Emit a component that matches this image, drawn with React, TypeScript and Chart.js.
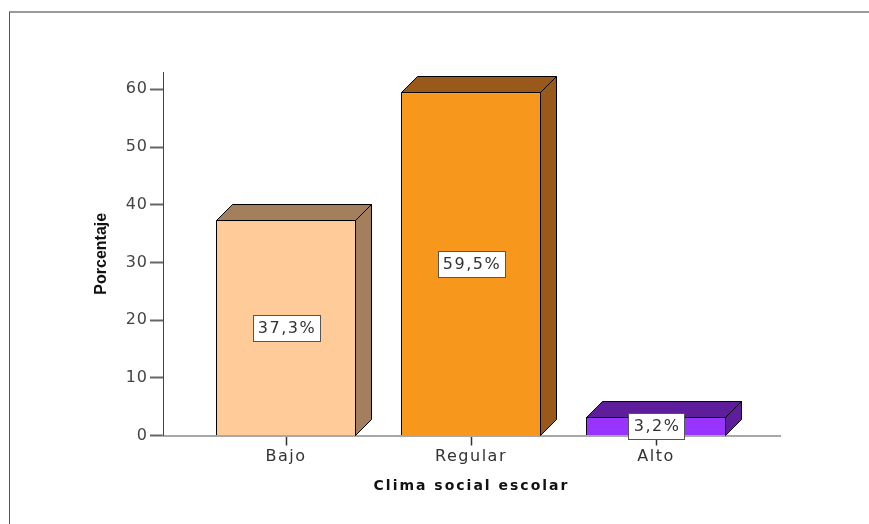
import React, { useEffect, useRef } from 'react';
import { Chart, registerables } from 'chart.js';

Chart.register(...registerables);

// ---- data ----
const categories = ['Bajo', 'Regular', 'Alto'];
const percentages = [37.3, 59.5, 3.2];
const valueLabels = ['37,3%', '59,5%', '3,2%'];
const yTickValues = [0, 10, 20, 30, 40, 50, 60];
const xTitle = 'Clima social escolar';
const yTitle = 'Porcentaje';

// ---- styles ----
const frontColors = ['#FFCC99', '#F7981D', '#9933FF'];
const depthColors = ['#A37F5E', '#98591A', '#5E1E9C'];
const DEPTH_X = 16;
const DEPTH_Y = 16;

const scaleSpacing: Record<string, { labels: string; title: string }> = {
  x: { labels: '1.5px', title: '2px' },
  y: { labels: '1px', title: '0px' },
};

const letterSpacingPlugin = {
  id: 'letterSpacingPlugin',
  beforeDraw(chart: any) {
    Object.keys(scaleSpacing).forEach((id) => {
      const s = chart.scales[id];
      if (!s || s.__lsPatched) return;
      s.__lsPatched = true;
      const sp = scaleSpacing[id];
      const dl = s.drawLabels.bind(s);
      const dt = s.drawTitle.bind(s);
      s.drawLabels = (a: any) => {
        const c = chart.ctx;
        const prev = c.letterSpacing;
        c.letterSpacing = sp.labels;
        dl(a);
        c.letterSpacing = prev;
      };
      s.drawTitle = (a: any) => {
        const c = chart.ctx;
        const prev = c.letterSpacing;
        c.letterSpacing = sp.title;
        dt(a);
        c.letterSpacing = prev;
      };
    });
  },
};

const bar3dPlugin = {
  id: 'bar3dPlugin',
  afterDatasetsDraw(chart: any) {
    const ctx = chart.ctx;
    const meta = chart.getDatasetMeta(0);
    meta.data.forEach((bar: any, i: number) => {
      const { x, y, base, width } = bar.getProps(['x', 'y', 'base', 'width'], true);
      const l = Math.round(x - width / 2) + 0.5;
      const r = Math.round(x + width / 2) - 0.5;
      const t = Math.round(y) + 0.5;
      const b = Math.round(base) + 0.5;
      ctx.save();
      ctx.fillStyle = depthColors[i];
      ctx.strokeStyle = '#000';
      ctx.lineWidth = 1;
      ctx.lineJoin = 'miter';
      // top face
      ctx.beginPath();
      ctx.moveTo(l, t);
      ctx.lineTo(l + DEPTH_X, t - DEPTH_Y);
      ctx.lineTo(r + DEPTH_X, t - DEPTH_Y);
      ctx.lineTo(r, t);
      ctx.closePath();
      ctx.fill();
      ctx.stroke();
      // side face
      ctx.beginPath();
      ctx.moveTo(r, t);
      ctx.lineTo(r + DEPTH_X, t - DEPTH_Y);
      ctx.lineTo(r + DEPTH_X, b - DEPTH_Y);
      ctx.lineTo(r, b);
      ctx.closePath();
      ctx.fill();
      ctx.stroke();
      ctx.restore();
    });
    // value labels
    meta.data.forEach((bar: any, i: number) => {
      const { x, y, base } = bar.getProps(['x', 'y', 'base'], true);
      const cy = (y + base) / 2;
      ctx.save();
      ctx.font = '16px "DejaVu Sans"';
      (ctx as any).letterSpacing = '1.5px';
      const txt = valueLabels[i];
      const tw = ctx.measureText(txt).width;
      const w = Math.round(tw + 9);
      const h = 26;
      const bx = Math.round(x - w / 2) + 0.5;
      const by = Math.round(cy - h / 2) + 0.5;
      ctx.fillStyle = '#FFFFFF';
      ctx.fillRect(bx, by, w, h);
      ctx.strokeStyle = '#555';
      ctx.lineWidth = 1;
      ctx.strokeRect(bx, by, w, h);
      ctx.fillStyle = '#333';
      ctx.textAlign = 'center';
      ctx.textBaseline = 'middle';
      ctx.fillText(txt, x + 1, cy + 1);
      ctx.restore();
    });
  },
};

export default function App() {
  const canvasRef = useRef<HTMLCanvasElement | null>(null);

  useEffect(() => {
    if (!canvasRef.current) return;
    const chart = new Chart(canvasRef.current, {
      type: 'bar',
      data: {
        datasets: [
          {
            data: percentages.map((v, i) => ({ x: i, y: v })),
            backgroundColor: frontColors,
            borderColor: '#000',
            borderWidth: 1,
            barPercentage: 0.757,
            categoryPercentage: 1,
          },
        ],
      },
      options: {
        responsive: false,
        animation: false,
        layout: { padding: { left: 92, top: 72, right: 89, bottom: 29 } },
        plugins: {
          legend: { display: false },
          tooltip: { enabled: false },
        },
        scales: {
          x: {
            type: 'linear',
            min: -0.665,
            max: 2.67,
            offset: false,
            afterBuildTicks: (s: any) => {
              s.ticks = categories.map((_, i) => ({ value: i }));
            },
            afterFit: (s: any) => {
              s.height = 59.5;
            },
            grid: {
              offset: false,
              drawOnChartArea: false,
              drawTicks: true,
              tickLength: 10,
              tickColor: '#333',
              tickWidth: 1.5,
            },
            border: { display: true, color: '#A8A8A8', width: 2 },
            ticks: {
              callback: (v: any) => categories[v] ?? '',
              color: '#333',
              font: { family: 'DejaVu Sans', size: 16 },
              padding: 2,
              maxRotation: 0,
              autoSkip: false,
            },
            title: {
              display: true,
              text: xTitle,
              color: '#111',
              font: { family: 'DejaVu Sans', size: 14, weight: 'bold' },
              padding: 0,
            },
          },
          y: {
            min: 0,
            max: 63,
            afterBuildTicks: (s: any) => {
              s.ticks = yTickValues.map((v) => ({ value: v }));
            },
            afterFit: (s: any) => {
              s.width = 71;
            },
            grid: {
              drawOnChartArea: false,
              drawTicks: true,
              tickLength: 13,
              tickColor: '#666',
              tickWidth: 2,
            },
            border: { display: true, color: '#444', width: 1 },
            ticks: {
              color: '#444',
              font: { family: 'DejaVu Sans', size: 16 },
              padding: 2,
            },
            title: {
              display: true,
              text: yTitle,
              color: '#111',
              font: { family: 'Liberation Sans', size: 16, weight: 'bold' },
              padding: 0,
            },
          },
        },
      } as any,
      plugins: [letterSpacingPlugin, bar3dPlugin],
    });
    return () => chart.destroy();
  }, []);

  return (
    <div
      style={{
        position: 'fixed',
        left: 0,
        top: 0,
        width: 869,
        height: 524,
        background: '#fff',
        overflow: 'hidden',
      }}
    >
      <div
        style={{
          position: 'absolute',
          left: 9,
          top: 11,
          right: 0,
          bottom: 0,
          borderTop: '2px solid #9A9A9A',
          borderLeft: '1px solid #555',
        }}
      />
      <canvas
        ref={canvasRef}
        width={869}
        height={524}
        style={{ position: 'absolute', left: 0, top: 0, width: 869, height: 524 }}
      />
    </div>
  );
}
